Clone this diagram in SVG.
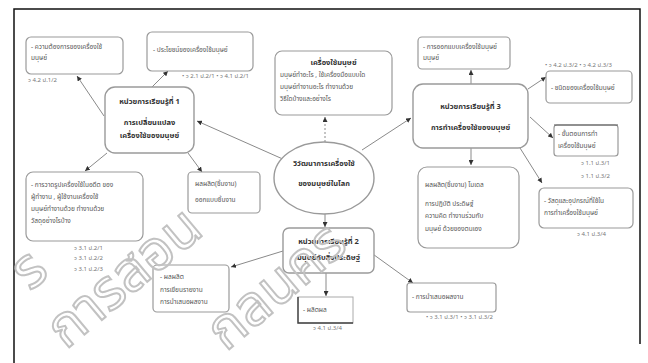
<svg xmlns="http://www.w3.org/2000/svg" width="648" height="363" viewBox="0 0 648 363">
<defs>
<marker id="ah" markerWidth="5" markerHeight="5" refX="5" refY="2.5" orient="auto" markerUnits="userSpaceOnUse">
<path d="M0,0 L5,2.5 L0,5 z" fill="#333"/>
</marker>
<style>
text{font-family:"Noto Sans Thai","Noto Sans","DejaVu Sans",sans-serif;fill:#555;}
.t{font-size:6.5px;}
.b{font-size:7.5px;font-weight:bold;fill:#333;}
.l{font-size:6px;fill:#777;}
.box{fill:#fff;stroke:#9a9a9a;stroke-width:1.2;}
.unit{fill:#fff;stroke:#9a9a9a;stroke-width:1.4;}
.c{fill:none;stroke:#8a8a8a;stroke-width:1;marker-end:url(#ah);}
.wm{font-family:"Noto Sans Thai","Noto Sans",sans-serif;font-size:56px;fill:none;stroke:#c2c2c2;stroke-width:2;}
</style>
</defs>
<rect width="648" height="363" fill="#fff"/>
<path d="M14,363 V9 H640 V344" fill="none" stroke="#111" stroke-width="1.5"/>

<g id="connectors">
<line class="c" x1="285" y1="160" x2="197" y2="121"/>
<line class="c" x1="325" y1="142" x2="325" y2="117" stroke-dasharray="2,2"/>
<line class="c" x1="362" y1="150" x2="411" y2="118"/>
<line class="c" x1="325" y1="214" x2="325" y2="227"/>
<line class="c" x1="104" y1="116" x2="77" y2="76"/>
<line class="c" x1="151" y1="88" x2="168" y2="71"/>
<line class="c" x1="107" y1="153" x2="85" y2="171"/>
<line class="c" x1="188" y1="153" x2="202" y2="172"/>
<line class="c" x1="471" y1="84" x2="471" y2="70"/>
<line class="c" x1="528" y1="89" x2="546" y2="77"/>
<line class="c" x1="530" y1="117" x2="553" y2="138"/>
<line class="c" x1="471" y1="148" x2="471" y2="165"/>
<line class="c" x1="520" y1="148" x2="542" y2="183"/>
<line class="c" x1="283" y1="251" x2="231" y2="267"/>
<line class="c" x1="326" y1="273" x2="326" y2="296"/>
<line class="c" x1="370" y1="252" x2="413" y2="283"/>
</g>

<g id="a">
<rect class="box" x="26" y="37" width="97" height="37" rx="5"/>
<text class="t" x="31" y="49">- ความต้องการของเครื่องใช้</text>
<text class="t" x="31" y="60">มนุษย์</text>
<text class="l" x="28" y="82">ว 4.2 ป.1/2</text>
</g>
<g id="b">
<rect class="box" x="147" y="32" width="106" height="39" rx="5"/>
<text class="t" x="153" y="52">- ประโยชน์ของเครื่องใช้มนุษย์</text>
<text class="l" x="182" y="78">• ว 2.1 ป.2/1  • ว 4.1 ป.2/1</text>
</g>
<g id="unit1">
<rect class="unit" x="105" y="87" width="89" height="66" rx="10"/>
<text class="b" x="149.5" y="104" text-anchor="middle">หน่วยการเรียนรู้ที่ 1</text>
<text class="b" x="149.5" y="125" text-anchor="middle">การเปลี่ยนแปลง</text>
<text class="b" x="149.5" y="138" text-anchor="middle">เครื่องใช้ของมนุษย์</text>
</g>
<g id="d">
<rect class="box" x="275" y="51" width="117" height="64" rx="7"/>
<text class="b" x="333.5" y="65" text-anchor="middle">เครื่องใช้มนุษย์</text>
<text class="t" x="280" y="77">มนุษย์ทำอะไร , ใช้เครื่องมือแบบใด</text>
<text class="t" x="280" y="89">มนุษย์ทำงานอะไร ทำงานด้วย</text>
<text class="t" x="280" y="101">วิธีใดบ้างและอย่างไร</text>
</g>
<g id="e">
<rect class="box" x="418" y="37" width="92" height="32" rx="4"/>
<text class="t" x="423" y="49">- การออกแบบเครื่องใช้มนุษย์</text>
<text class="t" x="423" y="60">มนุษย์</text>
</g>
<g id="unit3">
<rect class="unit" x="413" y="84" width="115" height="64" rx="10"/>
<text class="b" x="470.5" y="109" text-anchor="middle">หน่วยการเรียนรู้ที่ 3</text>
<text class="b" x="470.5" y="130" text-anchor="middle">การทำเครื่องใช้ของมนุษย์</text>
</g>
<g id="g">
<text class="l" x="545" y="67">• ว 4.2 ป.3/2  • ว 4.2 ป.3/3</text>
<rect class="box" x="546" y="71" width="86" height="32" rx="4"/>
<text class="t" x="551" y="90">- ชนิดของเครื่องใช้มนุษย์</text>
</g>
<g id="h">
<rect class="box" x="554" y="125" width="64" height="31" rx="3"/>
<line x1="554" y1="125" x2="618" y2="125" stroke="#555" stroke-width="1.2"/>
<text class="t" x="558" y="136">- ขั้นตอนการทำ</text>
<text class="t" x="558" y="148">เครื่องใช้มนุษย์</text>
<text class="l" x="581" y="165">ว 1.1 ป.3/1</text>
<text class="l" x="581" y="178">ว 1.1 ป.3/2</text>
</g>
<g id="i">
<rect class="box" x="539" y="188" width="94" height="40" rx="5"/>
<text class="t" x="544" y="203">- วัสดุและอุปกรณ์ที่ใช้ใน</text>
<text class="t" x="544" y="215">การทำเครื่องใช้มนุษย์</text>
<text class="l" x="577" y="236">ว 4.1 ป.3/4</text>
</g>
<g id="j">
<rect class="box" x="418" y="167" width="101" height="81" rx="9"/>
<text class="t" x="425" y="187">ผลผลิต(ชิ้นงาน)  โมเดล</text>
<text class="t" x="425" y="206">การปฏิบัติ ประดิษฐ์</text>
<text class="t" x="425" y="218">ความคิด ทำงานร่วมกับ</text>
<text class="t" x="425" y="231">มนุษย์ ด้วยของตนเอง</text>
</g>
<g id="center">
<ellipse cx="324" cy="178" rx="50" ry="36" fill="#fff" stroke="#9a9a9a" stroke-width="1.4"/>
<text class="b" x="324" y="166" text-anchor="middle">วิวัฒนาการเครื่องใช้</text>
<text class="b" x="324" y="186" text-anchor="middle">ของมนุษย์ในโลก</text>
</g>
<g id="unit2">
<rect class="unit" x="283" y="228" width="91" height="45" rx="6"/>
<text class="b" x="328.5" y="244" text-anchor="middle">หน่วยการเรียนรู้ที่ 2</text>
<text class="b" x="328.5" y="260" text-anchor="middle">มนุษย์กับสิ่งประดิษฐ์</text>
</g>
<g id="l">
<rect class="box" x="26" y="172" width="117" height="69" rx="7"/>
<text class="t" x="31" y="187">- การวาดรูปเครื่องใช้ในอดีต  ของ</text>
<text class="t" x="31" y="199">ผู้ทำงาน , ผู้ใช้งานเครื่องใช้</text>
<text class="t" x="31" y="211">มนุษย์ทำงานด้วย ทำงานด้วย</text>
<text class="t" x="31" y="223">วัสดุอย่างไรบ้าง</text>
<text class="l" x="74" y="250">ว 3.1 ป.2/1</text>
<text class="l" x="74" y="260">ว 3.1 ป.2/2</text>
<text class="l" x="74" y="271">ว 3.1 ป.2/3</text>
</g>
<g id="m">
<rect class="box" x="188" y="172" width="72" height="41" rx="4"/>
<text class="t" x="195" y="186">ผลผลิต(ชิ้นงาน)</text>
<text class="t" x="195" y="202">ออกแบบชิ้นงาน</text>
</g>
<g id="n">
<rect class="box" x="153" y="265" width="76" height="47" rx="4"/>
<text class="t" x="160" y="279">- ผลผลิต</text>
<text class="t" x="160" y="292">การเขียนรายงาน</text>
<text class="t" x="160" y="304">การนำเสนอผลงาน</text>
</g>
<g id="o">
<rect x="298" y="297" width="55" height="26" fill="#fff" stroke="#aaa" stroke-width="1"/>
<path d="M298,297 V323 H353" fill="none" stroke="#444" stroke-width="1.4"/>
<text class="t" x="303" y="312">- ผลิตผล</text>
<text class="l" x="313" y="330">ว 4.1 ป.3/4</text>
</g>
<g id="p">
<rect class="box" x="407" y="283" width="89" height="29" rx="3"/>
<text class="t" x="412" y="299">- การนำเสนอผลงาน</text>
<text class="l" x="426" y="319">• ว 3.1 ป.3/1 • ว 3.1 ป.3/2</text>
</g>

<g id="watermark">
<text class="wm" x="30" y="292" transform="rotate(-40 30 292)">ร</text>
<text class="wm" x="66" y="350" transform="rotate(-40 66 350)">การสอน</text>
<text class="wm" x="226" y="352" transform="rotate(-40 226 352)">กลนคร</text>
</g>
</svg>
